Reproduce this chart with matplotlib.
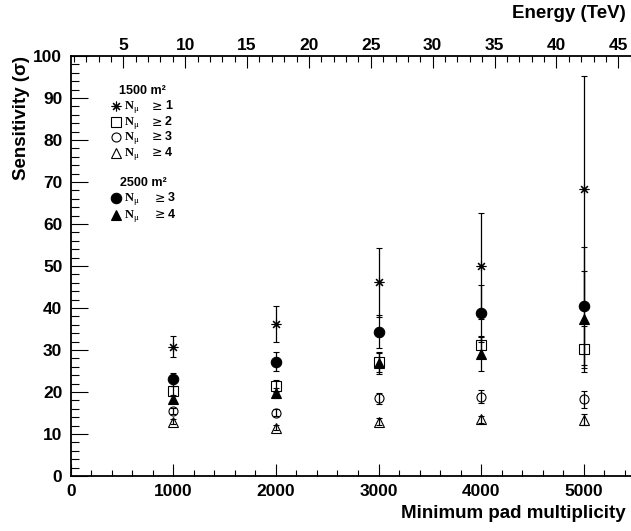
import matplotlib
matplotlib.use("Agg")
import matplotlib.pyplot as plt
from matplotlib.ticker import MultipleLocator

plt.rcParams['font.family'] = ['Liberation Sans', 'DejaVu Sans']
plt.rcParams['font.weight'] = 'bold'

# minimum pad multiplicity
mult = [1000, 2000, 3000, 4000, 5000]

# 1500 m^2 array
s1500_n1 = [30.8, 36.2, 46.1, 50.0, 68.3]
e1500_n1 = [2.5, 4.3, 8.3, 12.7, 27.0]
s1500_n2 = [20.3, 21.4, 27.1, 31.1, 30.2]
e1500_n2 = [1.2, 1.4, 2.4, 2.3, 5.5]
s1500_n3 = [15.5, 15.1, 18.5, 18.9, 18.3]
e1500_n3 = [0.8, 0.9, 1.3, 1.5, 2.0]
s1500_n4 = [12.9, 11.5, 12.9, 13.5, 13.4]
e1500_n4 = [0.6, 0.6, 0.8, 0.8, 1.3]

# 2500 m^2 array
s2500_n3 = [23.0, 27.2, 34.4, 38.7, 40.5]
e2500_n3 = [1.6, 2.3, 4.0, 6.8, 14.0]
s2500_n4 = [18.3, 19.8, 26.8, 29.0, 37.3]
e2500_n4 = [1.0, 1.2, 2.5, 4.0, 11.5]

energy_ticks = [5, 10, 15, 20, 25, 30, 35, 40, 45]

# pad multiplicity <-> energy scale of the top axis
e0 = 0.744
mult_per_tev = 120.6


def mult_to_energy(m):
    return e0 + m / mult_per_tev


def energy_to_mult(e):
    return (e - e0) * mult_per_tev


W, H = 631, 531
fig = plt.figure(figsize=(W / 100, H / 100), dpi=100)
ax = fig.add_axes([70.7 / W, 55 / H, (W - 70.7) / W, 420 / H])

series = [
    (s1500_n1, e1500_n1, dict(marker=(8, 2, 0), ms=7, mew=0.8, mfc='black')),
    (s1500_n2, e1500_n2, dict(marker='s', ms=6.5, mew=0.8, mfc='none')),
    (s1500_n3, e1500_n3, dict(marker='o', ms=6.5, mew=0.8, mfc='none')),
    (s1500_n4, e1500_n4, dict(marker='^', ms=6.5, mew=0.8, mfc='none')),
    (s2500_n3, e2500_n3, dict(marker='o', ms=7.5, mew=0.8, mfc='black')),
    (s2500_n4, e2500_n4, dict(marker='^', ms=7.5, mew=0.8, mfc='black')),
]
for ys, es, style in series:
    ax.errorbar(mult, ys, yerr=es, ls='none', color='black', ecolor='black',
                elinewidth=0.9, capsize=2.2, capthick=0.9, mec='black', **style)

ax.set_xlim(0, 5461)
ax.set_ylim(0, 100)
ax.xaxis.set_major_locator(MultipleLocator(1000))
ax.xaxis.set_minor_locator(MultipleLocator(200))
ax.yaxis.set_major_locator(MultipleLocator(10))
ax.yaxis.set_minor_locator(MultipleLocator(2))

ax.spines['top'].set_visible(False)
ax.spines['right'].set_visible(False)
ax.spines['left'].set_linewidth(1.3)
ax.spines['bottom'].set_linewidth(1.3)

ax.tick_params(axis='y', which='major', direction='in', length=12, width=0.8,
               labelsize=12.5, pad=6)
ax.tick_params(axis='y', which='minor', direction='in', length=5.8, width=0.8)
ax.tick_params(axis='x', which='major', direction='in', length=9, width=0.8,
               labelsize=12.5, pad=6)
ax.tick_params(axis='x', which='minor', direction='in', length=4.3, width=0.8)

secax = ax.secondary_xaxis('top', functions=(mult_to_energy, energy_to_mult))
secax.set_xticks(energy_ticks)
secax.xaxis.set_minor_locator(MultipleLocator(1))
secax.spines['top'].set_linewidth(1.3)
secax.tick_params(axis='x', which='major', direction='in', length=8.7, width=0.8,
                  labelsize=12.5, pad=2)
secax.tick_params(axis='x', which='minor', direction='in', length=4.3, width=0.8)

ax.set_ylabel("Sensitivity (σ)", fontsize=13.5, fontweight='bold', loc='top')
ax.yaxis.set_label_coords(-41 / (W - 70.7), 1.0)
fig.text((W - 5) / W, 1 - 514 / H, "Minimum pad multiplicity", ha='right', va='center',
         fontsize=13.5, fontweight='bold')
fig.text((W - 5) / W, 1 - 13 / H, "Energy (TeV)", ha='right', va='center',
         fontsize=13.5, fontweight='bold')

# legend block drawn by hand
def px(x, y):
    return x / W, 1 - y / H


fig.text(*px(119, 91), "1500 m²", fontsize=9, fontweight='bold', va='center')
fig.text(*px(120, 183), "2500 m²", fontsize=9, fontweight='bold', va='center')

legend_rows = [
    (106, 0, "1"),
    (122, 1, "2"),
    (137, 2, "3"),
    (153, 3, "4"),
    (198, 4, "3"),
    (215, 5, "4"),
]
for ypix, idx, num in legend_rows:
    style = dict(series[idx][2])
    ax.plot([116 / W], [1 - ypix / H], transform=fig.transFigure, clip_on=False,
            ls='none', color='black', mec='black', **style)
    xnum = 165 if idx < 4 else 168
    xge = 152 if idx < 4 else 155
    fig.text(*px(125, ypix), "N", fontsize=9, va='center', fontweight='bold',
             family='Liberation Serif')
    fig.text(*px(133, ypix + 3), "μ", fontsize=6.5, va='center', fontweight='normal',
             family='Liberation Serif')
    fig.text(*px(xge, ypix), "≥", fontsize=9, va='center', fontweight='normal',
             family='DejaVu Sans')
    fig.text(*px(xnum, ypix), num, fontsize=9, va='center', fontweight='bold')

fig.savefig("out.png", dpi=100)
